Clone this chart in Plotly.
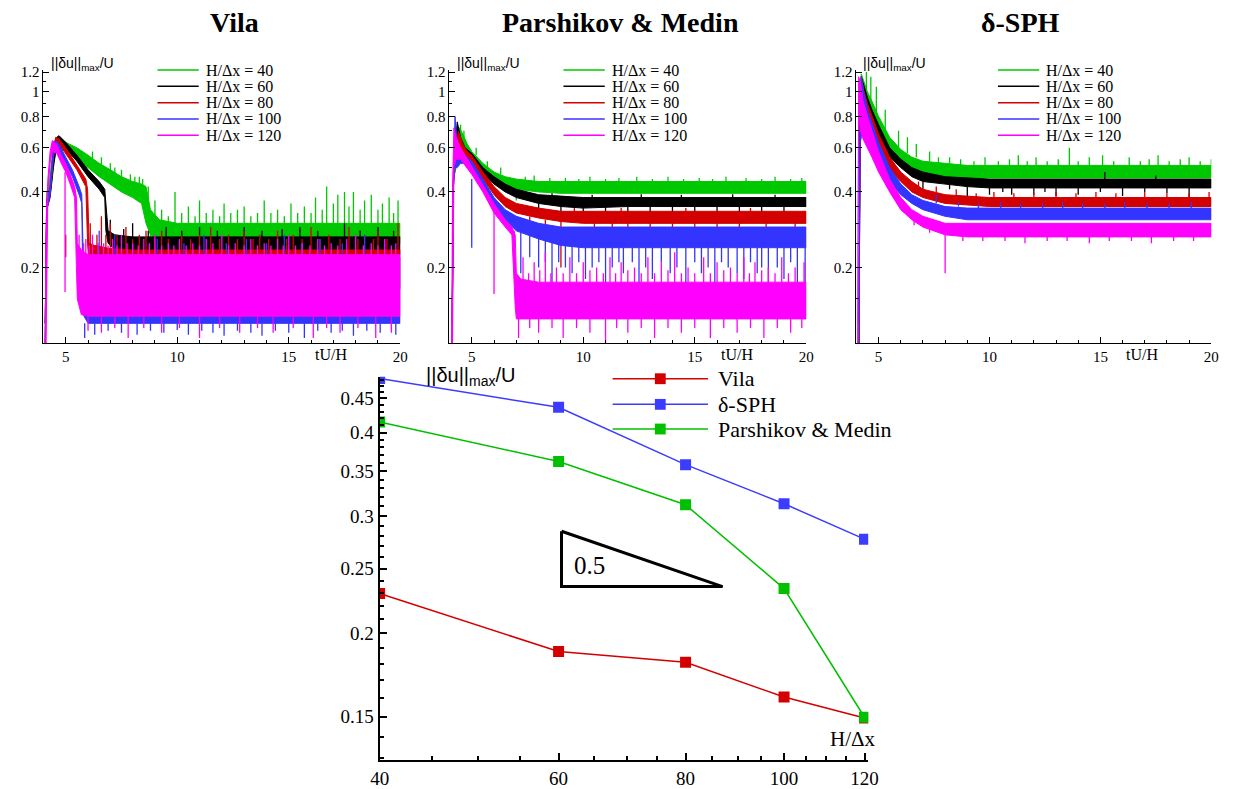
import plotly.graph_objects as go

W, H = 1239, 789

# ---------------- colours / labels ----------------
GREEN, BLACK, RED, BLUE, PINK = '#00c800', '#000000', '#d20000', '#3434ff', '#ff00ff'
res_labels = ['H/Δx = 40', 'H/Δx = 60', 'H/Δx = 80', 'H/Δx = 100', 'H/Δx = 120']
panel_titles = ['Vila', 'Parshikov & Medin', 'δ-SPH']

# ---------------- top panels: time histories ----------------
# each series: times, upper / lower envelope of the noisy signal, and single spikes (t, from, to)

# ===== Vila =====
vila40_t = [4.08, 4.15, 4.25, 4.35, 4.45, 4.6, 4.8, 5.0, 5.5, 6.0, 6.5, 7.0, 7.5, 8.0, 8.4, 8.6, 8.8, 9.2, 10.0, 12.0, 14.0, 16.0, 18.0, 20.0]
vila40_hi = [0.12, 0.40, 0.42, 0.50, 0.62, 0.66, 0.65, 0.63, 0.60, 0.56, 0.52, 0.49, 0.46, 0.44, 0.43, 0.42, 0.34, 0.31, 0.30, 0.30, 0.30, 0.30, 0.30, 0.30]
vila40_lo = [0.10, 0.36, 0.38, 0.42, 0.52, 0.60, 0.59, 0.58, 0.54, 0.50, 0.46, 0.43, 0.40, 0.38, 0.36, 0.30, 0.27, 0.25, 0.25, 0.25, 0.25, 0.25, 0.25, 0.25]
vila40_spk = [(6.2, 0.54, 0.58), (6.6, 0.50, 0.55), (7.0, 0.47, 0.52), (7.2, 0.47, 0.50), (7.5, 0.45, 0.49), (7.9, 0.43, 0.47),
              (8.1, 0.42, 0.46), (8.3, 0.42, 0.46), (8.45, 0.40, 0.45), (8.7, 0.36, 0.42), (8.8, 0.30, 0.26),
              (9.0, 0.30, 0.37), (9.3, 0.30, 0.34), (9.6, 0.30, 0.32), (9.9, 0.30, 0.40), (10.2, 0.30, 0.33), (10.5, 0.30, 0.35),
              (10.8, 0.30, 0.32), (11.0, 0.30, 0.37), (11.3, 0.30, 0.33), (11.6, 0.30, 0.34), (11.9, 0.30, 0.32), (12.1, 0.30, 0.36),
              (12.4, 0.30, 0.33), (12.7, 0.30, 0.34), (13.0, 0.30, 0.35), (13.3, 0.30, 0.32), (13.6, 0.30, 0.33), (13.9, 0.30, 0.37),
              (14.2, 0.30, 0.33), (14.5, 0.30, 0.34), (14.8, 0.30, 0.32), (15.1, 0.30, 0.36), (15.4, 0.30, 0.33), (15.7, 0.30, 0.35),
              (16.0, 0.30, 0.33), (16.2, 0.30, 0.38), (16.5, 0.30, 0.34), (16.7, 0.30, 0.42), (17.0, 0.30, 0.36), (17.2, 0.30, 0.39),
              (17.5, 0.30, 0.40), (17.7, 0.30, 0.35), (17.9, 0.30, 0.40), (18.2, 0.30, 0.34), (18.4, 0.30, 0.37), (18.7, 0.30, 0.39),
              (19.0, 0.30, 0.34), (19.2, 0.30, 0.36), (19.5, 0.30, 0.38), (19.7, 0.30, 0.33), (19.9, 0.30, 0.37)]

vila60_t = [4.08, 4.15, 4.3, 4.45, 4.6, 4.7, 5.0, 5.5, 6.0, 6.5, 6.75, 6.8, 6.9, 7.2, 8.0, 10.0, 12.0, 14.0, 16.0, 18.0, 20.0]
vila60_hi = [0.12, 0.37, 0.40, 0.55, 0.66, 0.67, 0.63, 0.56, 0.49, 0.44, 0.41, 0.36, 0.28, 0.27, 0.265, 0.265, 0.265, 0.265, 0.265, 0.265, 0.265]
vila60_lo = [0.10, 0.34, 0.38, 0.50, 0.62, 0.64, 0.60, 0.53, 0.46, 0.41, 0.38, 0.28, 0.25, 0.235, 0.225, 0.225, 0.225, 0.225, 0.225, 0.225, 0.225]
vila60_spk = [(7.0, 0.27, 0.31), (7.6, 0.265, 0.285), (8.0, 0.265, 0.30), (8.7, 0.265, 0.28), (9.5, 0.265, 0.29), (10.2, 0.265, 0.28),
              (11.0, 0.265, 0.29), (11.8, 0.265, 0.28), (13.0, 0.265, 0.29), (13.8, 0.265, 0.28), (14.7, 0.265, 0.285),
              (15.5, 0.265, 0.29), (16.3, 0.265, 0.28), (17.5, 0.265, 0.30), (18.2, 0.265, 0.28), (19.0, 0.265, 0.29),
              (19.7, 0.265, 0.28), (7.4, 0.23, 0.20), (8.5, 0.225, 0.19), (9.2, 0.225, 0.205), (10.5, 0.225, 0.19),
              (11.4, 0.225, 0.205), (12.5, 0.225, 0.20), (13.4, 0.225, 0.205), (14.5, 0.225, 0.20), (15.2, 0.225, 0.205),
              (16.5, 0.225, 0.19), (17.2, 0.225, 0.205), (18.5, 0.225, 0.20), (19.4, 0.225, 0.205)]

vila80_t = [4.08, 4.15, 4.3, 4.45, 4.55, 4.7, 5.0, 5.5, 5.9, 5.98, 6.05, 6.3, 7.0, 8.0, 10.0, 12.0, 14.0, 16.0, 18.0, 20.0]
vila80_hi = [0.12, 0.37, 0.42, 0.60, 0.66, 0.65, 0.60, 0.51, 0.45, 0.41, 0.25, 0.245, 0.238, 0.235, 0.235, 0.235, 0.235, 0.235, 0.235, 0.235]
vila80_lo = [0.10, 0.34, 0.39, 0.55, 0.62, 0.62, 0.57, 0.49, 0.42, 0.25, 0.20, 0.18, 0.165, 0.165, 0.165, 0.165, 0.165, 0.165, 0.165, 0.165]
vila80_spk = [(5.0, 0.22, 0.27), (6.1, 0.24, 0.30), (6.4, 0.24, 0.27), (6.6, 0.24, 0.32), (6.8, 0.24, 0.27), (7.0, 0.24, 0.30),
              (7.3, 0.235, 0.27), (7.7, 0.235, 0.29), (8.0, 0.235, 0.26), (8.3, 0.235, 0.27), (8.6, 0.235, 0.28),
              (9.0, 0.235, 0.26), (9.3, 0.235, 0.28), (9.6, 0.235, 0.26), (10.2, 0.235, 0.27), (10.6, 0.235, 0.26),
              (11.0, 0.235, 0.27), (11.5, 0.235, 0.29), (11.9, 0.235, 0.26), (12.3, 0.235, 0.27), (12.7, 0.235, 0.26),
              (13.0, 0.235, 0.28), (13.4, 0.235, 0.26), (13.7, 0.235, 0.27), (14.1, 0.235, 0.26), (14.5, 0.235, 0.28),
              (14.9, 0.235, 0.26), (15.2, 0.235, 0.27), (15.6, 0.235, 0.26), (16.0, 0.235, 0.29), (16.4, 0.235, 0.26),
              (16.8, 0.235, 0.27), (17.3, 0.235, 0.26), (17.7, 0.235, 0.29), (18.1, 0.235, 0.26), (18.4, 0.235, 0.27),
              (18.8, 0.235, 0.26), (19.0, 0.235, 0.28), (19.4, 0.235, 0.26), (19.9, 0.235, 0.30), (9.8, 0.165, 0.14),
              (13.4, 0.165, 0.14), (17.1, 0.165, 0.145)]

vila100_t = [4.08, 4.15, 4.3, 4.45, 4.55, 4.7, 5.0, 5.3, 5.6, 5.72, 5.78, 6.0, 7.0, 10.0, 14.0, 20.0]
vila100_hi = [0.12, 0.37, 0.42, 0.60, 0.64, 0.62, 0.55, 0.49, 0.42, 0.39, 0.23, 0.22, 0.22, 0.22, 0.22, 0.22]
vila100_lo = [0.10, 0.34, 0.39, 0.55, 0.61, 0.58, 0.52, 0.46, 0.39, 0.36, 0.13, 0.12, 0.12, 0.12, 0.12, 0.12]
vila100_spk = [(5.85, 0.12, 0.105), (6.3, 0.12, 0.108), (6.9, 0.12, 0.112), (7.5, 0.12, 0.11), (8.2, 0.12, 0.108),
               (8.8, 0.12, 0.112), (9.4, 0.12, 0.11), (10.0, 0.12, 0.113), (10.5, 0.12, 0.108), (11.1, 0.12, 0.112),
               (11.6, 0.12, 0.11), (12.1, 0.12, 0.107), (12.7, 0.12, 0.112), (13.3, 0.12, 0.11), (13.8, 0.12, 0.107),
               (14.4, 0.12, 0.112), (15.0, 0.12, 0.11), (15.7, 0.12, 0.105), (16.3, 0.12, 0.112), (16.9, 0.12, 0.11),
               (17.4, 0.12, 0.112), (17.9, 0.12, 0.107), (18.5, 0.12, 0.112), (19.1, 0.12, 0.11), (19.8, 0.12, 0.108),
               (6.5, 0.22, 0.28), (7.2, 0.22, 0.27), (8.0, 0.22, 0.25), (9.1, 0.22, 0.26), (10.3, 0.22, 0.25),
               (11.2, 0.22, 0.27), (12.2, 0.22, 0.25), (13.1, 0.22, 0.26), (14.0, 0.22, 0.25), (14.8, 0.22, 0.27),
               (15.6, 0.22, 0.25), (16.4, 0.22, 0.26), (17.4, 0.22, 0.25), (18.4, 0.22, 0.27), (19.3, 0.22, 0.25)]

vila120_t = [4.08, 4.12, 4.2, 4.3, 4.4, 4.6, 4.8, 5.0, 5.2, 5.4, 5.48, 5.52, 5.7, 6.0, 8.0, 10.0, 12.0, 14.0, 16.0, 18.0, 20.0]
vila120_hi = [0.10, 0.30, 0.45, 0.58, 0.64, 0.62, 0.56, 0.52, 0.47, 0.42, 0.38, 0.25, 0.235, 0.225, 0.225, 0.225, 0.225, 0.225, 0.225, 0.225, 0.225]
vila120_lo = [0.10, 0.10, 0.40, 0.52, 0.58, 0.57, 0.52, 0.48, 0.43, 0.38, 0.20, 0.15, 0.13, 0.128, 0.128, 0.128, 0.128, 0.128, 0.128, 0.128, 0.128]
vila120_spk = [(4.97, 0.48, 0.16), (5.6, 0.225, 0.27), (5.8, 0.225, 0.25), (5.9, 0.225, 0.26), (6.05, 0.225, 0.245),
               (6.2, 0.225, 0.27), (6.45, 0.225, 0.25), (6.7, 0.225, 0.25), (6.9, 0.225, 0.245), (7.1, 0.225, 0.26),
               (7.3, 0.225, 0.245), (7.5, 0.225, 0.27), (7.75, 0.225, 0.25), (8.0, 0.225, 0.25), (8.25, 0.225, 0.245),
               (8.5, 0.225, 0.26), (8.75, 0.225, 0.25), (9.0, 0.225, 0.27), (9.3, 0.225, 0.245), (9.6, 0.225, 0.25),
               (9.85, 0.225, 0.245), (10.1, 0.225, 0.26), (10.4, 0.225, 0.245), (10.7, 0.225, 0.25), (11.0, 0.225, 0.245),
               (11.3, 0.225, 0.26), (11.6, 0.225, 0.25), (12.0, 0.225, 0.27), (12.3, 0.225, 0.245), (12.6, 0.225, 0.25),
               (13.0, 0.225, 0.245), (13.3, 0.225, 0.26), (13.6, 0.225, 0.245), (13.9, 0.225, 0.25), (14.2, 0.225, 0.245),
               (14.5, 0.225, 0.26), (14.75, 0.225, 0.245), (15.0, 0.225, 0.27), (15.3, 0.225, 0.245), (15.6, 0.225, 0.25),
               (15.95, 0.225, 0.245), (16.3, 0.225, 0.26), (16.6, 0.225, 0.245), (16.9, 0.225, 0.25), (17.2, 0.225, 0.245),
               (17.6, 0.225, 0.26), (18.0, 0.225, 0.27), (18.35, 0.225, 0.245), (18.7, 0.225, 0.25), (19.0, 0.225, 0.245),
               (19.3, 0.225, 0.26), (19.6, 0.225, 0.245), (19.8, 0.225, 0.25),
               (6.0, 0.128, 0.112), (6.6, 0.128, 0.11), (7.2, 0.128, 0.115), (7.8, 0.128, 0.105), (8.5, 0.128, 0.115),
               (9.3, 0.128, 0.11), (10.1, 0.128, 0.115), (11.0, 0.128, 0.105), (11.9, 0.128, 0.115), (12.8, 0.128, 0.11),
               (13.6, 0.128, 0.115), (14.3, 0.128, 0.11), (15.2, 0.128, 0.115), (16.1, 0.128, 0.105), (16.7, 0.128, 0.115),
               (17.3, 0.128, 0.11), (18.1, 0.128, 0.115), (18.9, 0.128, 0.105), (19.6, 0.128, 0.11)]

# ===== Parshikov & Medin =====
pm40_t = [4.12, 4.18, 4.3, 4.45, 4.6, 4.8, 5.0, 5.5, 6.0, 6.5, 7.0, 8.0, 9.0, 10.0, 12.0, 14.0, 16.0, 18.0, 20.0]
pm40_hi = [0.12, 0.50, 0.62, 0.72, 0.68, 0.62, 0.58, 0.52, 0.48, 0.46, 0.45, 0.44, 0.44, 0.44, 0.44, 0.44, 0.44, 0.44, 0.44]
pm40_lo = [0.10, 0.45, 0.50, 0.55, 0.56, 0.54, 0.53, 0.48, 0.45, 0.42, 0.41, 0.40, 0.395, 0.395, 0.395, 0.395, 0.395, 0.395, 0.395]
pm40_spk = [(4.5, 0.65, 0.74), (4.65, 0.62, 0.70), (5.2, 0.56, 0.60), (5.7, 0.50, 0.53), (6.3, 0.47, 0.50), (7.0, 0.41, 0.37),
            (7.4, 0.445, 0.46), (7.8, 0.44, 0.465), (8.5, 0.44, 0.455), (9.2, 0.44, 0.455), (9.8, 0.44, 0.45),
            (10.3, 0.44, 0.46), (11.0, 0.44, 0.45), (11.6, 0.44, 0.455), (12.4, 0.44, 0.46), (13.1, 0.44, 0.45),
            (13.8, 0.44, 0.46), (14.5, 0.44, 0.45), (15.2, 0.44, 0.455), (15.8, 0.44, 0.45), (16.4, 0.44, 0.46),
            (17.3, 0.44, 0.455), (18.0, 0.44, 0.45), (18.6, 0.44, 0.46), (19.3, 0.44, 0.45), (19.8, 0.44, 0.455)]

pm60_t = [4.12, 4.18, 4.25, 4.35, 4.5, 4.7, 5.0, 5.5, 6.0, 6.5, 7.0, 8.0, 9.0, 10.0, 12.0, 14.0, 16.0, 18.0, 20.0]
pm60_hi = [0.12, 0.48, 0.60, 0.76, 0.66, 0.60, 0.57, 0.50, 0.46, 0.43, 0.41, 0.39, 0.385, 0.38, 0.38, 0.38, 0.38, 0.38, 0.38]
pm60_lo = [0.10, 0.45, 0.52, 0.58, 0.56, 0.55, 0.53, 0.47, 0.43, 0.40, 0.38, 0.36, 0.35, 0.345, 0.35, 0.35, 0.35, 0.35, 0.35]
pm60_spk = [(8, 0.36, 0.32), (9, 0.35, 0.32), (10, 0.35, 0.325), (11, 0.35, 0.33), (12, 0.35, 0.32), (13, 0.35, 0.33),
            (14, 0.35, 0.325), (15, 0.35, 0.33), (16, 0.35, 0.32), (17, 0.35, 0.325), (18, 0.35, 0.32), (19, 0.35, 0.325),
            (8.6, 0.385, 0.395), (10.4, 0.38, 0.39), (12.6, 0.38, 0.392), (14.4, 0.38, 0.39), (16.7, 0.38, 0.392), (18.6, 0.38, 0.39)]

pm80_t = [4.12, 4.18, 4.25, 4.4, 4.6, 4.8, 5.0, 5.5, 6.0, 6.5, 7.0, 8.0, 9.0, 10.0, 12.0, 14.0, 16.0, 18.0, 20.0]
pm80_hi = [0.12, 0.45, 0.58, 0.70, 0.62, 0.58, 0.56, 0.48, 0.42, 0.38, 0.36, 0.345, 0.335, 0.335, 0.335, 0.335, 0.335, 0.335, 0.335]
pm80_lo = [0.10, 0.42, 0.50, 0.54, 0.54, 0.54, 0.52, 0.45, 0.39, 0.35, 0.33, 0.315, 0.305, 0.30, 0.30, 0.30, 0.30, 0.30, 0.30]
pm80_spk = [(9.0, 0.305, 0.20), (7.6, 0.32, 0.29), (8.3, 0.31, 0.29), (10.5, 0.30, 0.28), (11.3, 0.30, 0.29), (12.0, 0.30, 0.27),
            (13.0, 0.30, 0.285), (14.0, 0.30, 0.29), (15.0, 0.30, 0.28), (16.0, 0.30, 0.29), (17.0, 0.30, 0.28),
            (18.2, 0.30, 0.27), (19.5, 0.30, 0.285), (9.6, 0.335, 0.345), (11.7, 0.335, 0.345), (14.6, 0.335, 0.345),
            (17.5, 0.335, 0.345)]

pm100_t = [4.12, 4.18, 4.25, 4.35, 4.5, 4.7, 5.0, 5.5, 6.0, 6.5, 7.0, 8.0, 9.0, 10.0, 12.0, 14.0, 16.0, 18.0, 20.0]
pm100_hi = [0.12, 0.45, 0.80, 0.62, 0.58, 0.56, 0.53, 0.45, 0.38, 0.34, 0.32, 0.30, 0.29, 0.29, 0.29, 0.29, 0.29, 0.29, 0.29]
pm100_lo = [0.10, 0.42, 0.50, 0.50, 0.52, 0.52, 0.49, 0.42, 0.35, 0.31, 0.28, 0.26, 0.245, 0.24, 0.24, 0.24, 0.24, 0.24, 0.24]
pm100_spk = [(5.0, 0.45, 0.24), (6.9, 0.28, 0.23), (7.2, 0.28, 0.19), (7.6, 0.27, 0.22), (8.0, 0.26, 0.20), (8.3, 0.26, 0.21),
             (8.6, 0.255, 0.17), (8.9, 0.25, 0.21), (9.2, 0.25, 0.20), (9.5, 0.25, 0.19), (9.8, 0.245, 0.21),
             (10.1, 0.24, 0.18), (10.4, 0.24, 0.20), (10.7, 0.24, 0.21), (11.0, 0.24, 0.16), (11.3, 0.24, 0.20),
             (11.6, 0.24, 0.21), (11.8, 0.24, 0.19), (12.2, 0.24, 0.21), (12.5, 0.24, 0.17), (12.8, 0.24, 0.20),
             (13.1, 0.24, 0.18), (13.5, 0.24, 0.21), (13.9, 0.24, 0.19), (14.2, 0.24, 0.20), (14.6, 0.24, 0.17),
             (15.0, 0.24, 0.21), (15.3, 0.24, 0.19), (15.6, 0.24, 0.20), (15.9, 0.24, 0.17), (16.2, 0.24, 0.21),
             (16.5, 0.24, 0.20), (16.9, 0.24, 0.19), (17.2, 0.24, 0.18), (17.5, 0.24, 0.21), (17.8, 0.24, 0.19),
             (18.0, 0.24, 0.20), (18.3, 0.24, 0.16), (18.7, 0.24, 0.20), (19.0, 0.24, 0.18), (19.3, 0.24, 0.21),
             (19.6, 0.24, 0.17), (19.95, 0.24, 0.17)]

pm120_t = [4.1, 4.14, 4.2, 4.3, 4.5, 4.7, 5.0, 5.5, 6.0, 6.5, 6.8, 6.95, 7.0, 7.2, 8.0, 10.0, 12.0, 14.0, 16.0, 18.0, 20.0]
pm120_hi = [0.10, 0.40, 0.72, 0.66, 0.60, 0.56, 0.51, 0.43, 0.36, 0.31, 0.29, 0.27, 0.19, 0.18, 0.175, 0.175, 0.175, 0.175, 0.175, 0.175, 0.175]
pm120_lo = [0.10, 0.10, 0.50, 0.54, 0.54, 0.51, 0.47, 0.40, 0.33, 0.29, 0.27, 0.14, 0.125, 0.125, 0.125, 0.125, 0.125, 0.125, 0.125, 0.125, 0.125]
pm120_spk = [(6.0, 0.34, 0.157), (7.3, 0.175, 0.22), (7.55, 0.175, 0.19), (7.8, 0.175, 0.21), (8.05, 0.175, 0.195),
             (8.3, 0.175, 0.23), (8.55, 0.175, 0.19), (8.8, 0.175, 0.20), (9.1, 0.175, 0.19), (9.4, 0.175, 0.22),
             (9.7, 0.175, 0.19), (10.0, 0.175, 0.21), (10.3, 0.175, 0.195), (10.6, 0.175, 0.20), (10.9, 0.175, 0.19),
             (11.2, 0.175, 0.22), (11.45, 0.175, 0.19), (11.7, 0.175, 0.21), (12.0, 0.175, 0.195), (12.3, 0.175, 0.20),
             (12.6, 0.175, 0.19), (12.9, 0.175, 0.22), (13.2, 0.175, 0.19), (13.5, 0.175, 0.21), (13.8, 0.175, 0.195),
             (14.1, 0.175, 0.23), (14.4, 0.175, 0.19), (14.7, 0.175, 0.20), (15.0, 0.175, 0.19), (15.4, 0.175, 0.22),
             (15.7, 0.175, 0.19), (16.0, 0.175, 0.21), (16.3, 0.175, 0.195), (16.6, 0.175, 0.20), (16.9, 0.175, 0.19),
             (17.2, 0.175, 0.22), (17.45, 0.175, 0.19), (17.7, 0.175, 0.21), (18.0, 0.175, 0.195), (18.3, 0.175, 0.20),
             (18.6, 0.175, 0.19), (18.9, 0.175, 0.22), (19.2, 0.175, 0.19), (19.5, 0.175, 0.20), (19.9, 0.175, 0.21),
             (7.1, 0.125, 0.105), (7.6, 0.125, 0.115), (8.0, 0.125, 0.11), (8.6, 0.125, 0.115), (9.1, 0.125, 0.105),
             (9.7, 0.125, 0.115), (10.3, 0.125, 0.11), (11.0, 0.125, 0.10), (11.5, 0.125, 0.115), (12.0, 0.125, 0.11),
             (12.6, 0.125, 0.115), (13.2, 0.125, 0.105), (13.8, 0.125, 0.115), (14.4, 0.125, 0.11), (15.0, 0.125, 0.115),
             (15.7, 0.125, 0.105), (16.3, 0.125, 0.115), (16.9, 0.125, 0.11), (17.5, 0.125, 0.115), (18.1, 0.125, 0.105),
             (18.7, 0.125, 0.115), (19.3, 0.125, 0.11), (19.8, 0.125, 0.115)]

# ===== delta-SPH =====
ds40_t = [4.12, 4.16, 4.22, 4.35, 4.5, 4.7, 5.0, 5.5, 6.0, 6.5, 7.0, 8.0, 9.0, 10.0, 12.0, 14.0, 16.0, 18.0, 20.0]
ds40_hi = [0.12, 0.80, 1.18, 1.10, 1.00, 0.92, 0.80, 0.66, 0.59, 0.55, 0.53, 0.52, 0.51, 0.51, 0.51, 0.51, 0.51, 0.51, 0.51]
ds40_lo = [0.10, 0.60, 0.70, 0.75, 0.75, 0.72, 0.68, 0.58, 0.52, 0.49, 0.47, 0.46, 0.455, 0.455, 0.455, 0.455, 0.455, 0.455, 0.455]
ds40_spk = [(4.45, 1.0, 1.2), (4.65, 0.92, 1.15), (4.9, 0.82, 1.05), (5.3, 0.70, 0.85), (5.9, 0.60, 0.70), (6.3, 0.57, 0.66),
            (6.7, 0.55, 0.62), (7.3, 0.53, 0.58), (7.7, 0.52, 0.55), (8.2, 0.52, 0.55), (8.7, 0.51, 0.54), (9.3, 0.51, 0.53),
            (9.8, 0.51, 0.55), (10.4, 0.51, 0.53), (10.9, 0.51, 0.54), (11.3, 0.51, 0.56), (11.7, 0.51, 0.53),
            (12.1, 0.51, 0.55), (12.6, 0.51, 0.53), (13.1, 0.51, 0.54), (13.6, 0.51, 0.60), (14.0, 0.51, 0.53),
            (14.5, 0.51, 0.55), (15.1, 0.51, 0.56), (15.6, 0.51, 0.53), (16.3, 0.51, 0.55), (16.8, 0.51, 0.53),
            (17.2, 0.51, 0.54), (17.6, 0.51, 0.56), (18.1, 0.51, 0.53), (18.6, 0.51, 0.54), (19.0, 0.51, 0.55),
            (19.5, 0.51, 0.53), (20.0, 0.51, 0.54)]

ds60_t = [4.12, 4.16, 4.22, 4.35, 4.5, 4.7, 5.0, 5.5, 6.0, 6.5, 7.0, 8.0, 9.0, 10.0, 12.0, 14.0, 16.0, 18.0, 20.0]
ds60_hi = [0.12, 0.80, 1.15, 1.05, 0.95, 0.85, 0.74, 0.60, 0.54, 0.50, 0.48, 0.46, 0.455, 0.45, 0.45, 0.45, 0.45, 0.45, 0.45]
ds60_lo = [0.10, 0.60, 0.70, 0.74, 0.72, 0.68, 0.62, 0.55, 0.50, 0.46, 0.44, 0.43, 0.42, 0.415, 0.415, 0.415, 0.415, 0.415, 0.415]
ds60_spk = [(7.0, 0.44, 0.41), (8.2, 0.43, 0.41), (9.0, 0.42, 0.38), (10.0, 0.415, 0.39), (10.6, 0.415, 0.40), (11.0, 0.415, 0.39),
            (12.0, 0.415, 0.39), (12.5, 0.415, 0.40), (13.0, 0.415, 0.385), (14.0, 0.415, 0.39), (15.0, 0.415, 0.40),
            (16.0, 0.415, 0.385), (17.0, 0.415, 0.40), (18.0, 0.415, 0.395), (19.0, 0.415, 0.38), (15.2, 0.45, 0.48),
            (17.5, 0.45, 0.465)]

ds80_t = [4.12, 4.16, 4.22, 4.35, 4.5, 4.7, 5.0, 5.5, 6.0, 6.5, 7.0, 8.0, 9.0, 10.0, 12.0, 14.0, 16.0, 18.0, 20.0]
ds80_hi = [0.12, 0.80, 1.15, 1.00, 0.90, 0.80, 0.68, 0.55, 0.48, 0.44, 0.41, 0.39, 0.385, 0.38, 0.38, 0.38, 0.38, 0.38, 0.38]
ds80_lo = [0.10, 0.60, 0.70, 0.70, 0.68, 0.62, 0.56, 0.49, 0.44, 0.40, 0.38, 0.36, 0.355, 0.35, 0.35, 0.35, 0.35, 0.35, 0.35]
ds80_spk = [(6.8, 0.41, 0.44), (7.6, 0.40, 0.42), (8.5, 0.385, 0.41), (9.4, 0.38, 0.395), (10.2, 0.38, 0.40), (11.1, 0.38, 0.395),
            (12.0, 0.38, 0.395), (13.0, 0.38, 0.40), (13.9, 0.38, 0.395), (14.8, 0.38, 0.40), (15.7, 0.38, 0.395),
            (17.0, 0.38, 0.40), (18.0, 0.38, 0.395), (19.0, 0.38, 0.395), (19.9, 0.38, 0.40)]

ds100_t = [4.12, 4.16, 4.22, 4.35, 4.5, 4.7, 5.0, 5.5, 6.0, 6.5, 7.0, 8.0, 9.0, 10.0, 12.0, 14.0, 16.0, 18.0, 20.0]
ds100_hi = [0.12, 0.80, 1.15, 0.98, 0.85, 0.75, 0.63, 0.50, 0.43, 0.39, 0.37, 0.35, 0.345, 0.345, 0.345, 0.345, 0.345, 0.345, 0.345]
ds100_lo = [0.10, 0.60, 0.70, 0.68, 0.64, 0.59, 0.52, 0.44, 0.39, 0.36, 0.34, 0.32, 0.31, 0.31, 0.31, 0.31, 0.31, 0.31, 0.31]
ds100_spk = [(7.6, 0.36, 0.39), (8.6, 0.35, 0.365), (9.5, 0.345, 0.36), (10.5, 0.345, 0.365), (11.4, 0.345, 0.36),
             (12.4, 0.345, 0.36), (13.3, 0.345, 0.365), (14.2, 0.345, 0.36), (15.2, 0.345, 0.36), (16.1, 0.345, 0.365),
             (17.1, 0.345, 0.36), (18.1, 0.345, 0.36), (19.1, 0.345, 0.365)]

ds120_t = [4.06, 4.1, 4.18, 4.3, 4.5, 4.7, 5.0, 5.5, 6.0, 6.5, 7.0, 8.0, 9.0, 10.0, 12.0, 14.0, 16.0, 18.0, 20.0]
ds120_hi = [0.10, 1.15, 1.10, 0.92, 0.80, 0.70, 0.58, 0.45, 0.38, 0.34, 0.32, 0.30, 0.30, 0.30, 0.30, 0.30, 0.30, 0.30, 0.30]
ds120_lo = [0.10, 0.90, 0.70, 0.65, 0.60, 0.55, 0.48, 0.40, 0.34, 0.31, 0.29, 0.27, 0.265, 0.265, 0.265, 0.265, 0.265, 0.265, 0.265]
ds120_spk = [(8.0, 0.27, 0.19), (6.6, 0.31, 0.295), (7.3, 0.29, 0.275), (8.8, 0.265, 0.255), (9.7, 0.265, 0.255),
             (10.7, 0.265, 0.255), (11.6, 0.265, 0.25), (12.6, 0.265, 0.255), (13.5, 0.265, 0.255), (14.5, 0.265, 0.25),
             (15.4, 0.265, 0.255), (16.4, 0.265, 0.255), (17.3, 0.265, 0.25), (18.3, 0.265, 0.255), (19.2, 0.265, 0.255)]

# ---------------- bottom panel: convergence ----------------
h_dx = [40, 60, 80, 100, 120]
conv_vila = [0.2295, 0.1878, 0.181, 0.1605, 0.1493]
conv_dsph = [0.482, 0.4364, 0.358, 0.3128, 0.2768]
conv_pm = [0.4147, 0.362, 0.3117, 0.2334, 0.1497]
slope_tri_x = [60.4, 60.4, 87.0, 60.4]
slope_tri_y = [0.2845, 0.235, 0.235, 0.2845]

# ---------------- build figure ----------------
fig = go.Figure()


def px(x):
    return x / W


def py(y):
    return 1 - y / H


panels = [
    [(vila40_t, vila40_hi, vila40_lo, vila40_spk), (vila60_t, vila60_hi, vila60_lo, vila60_spk),
     (vila80_t, vila80_hi, vila80_lo, vila80_spk), (vila100_t, vila100_hi, vila100_lo, vila100_spk),
     (vila120_t, vila120_hi, vila120_lo, vila120_spk)],
    [(pm40_t, pm40_hi, pm40_lo, pm40_spk), (pm60_t, pm60_hi, pm60_lo, pm60_spk),
     (pm80_t, pm80_hi, pm80_lo, pm80_spk), (pm100_t, pm100_hi, pm100_lo, pm100_spk),
     (pm120_t, pm120_hi, pm120_lo, pm120_spk)],
    [(ds40_t, ds40_hi, ds40_lo, ds40_spk), (ds60_t, ds60_hi, ds60_lo, ds60_spk),
     (ds80_t, ds80_hi, ds80_lo, ds80_spk), (ds100_t, ds100_hi, ds100_lo, ds100_spk),
     (ds120_t, ds120_hi, ds120_lo, ds120_spk)],
]
series_colors = [GREEN, BLACK, RED, BLUE, PINK]

for p, panel in enumerate(panels):
    xa = 'x' if p == 0 else f'x{p + 1}'
    ya = 'y' if p == 0 else f'y{p + 1}'
    for (t, hi, lo, spk), col, lab in zip(panel, series_colors, res_labels):
        fig.add_trace(go.Scatter(x=list(t) + list(t)[::-1], y=list(hi) + list(lo)[::-1],
                                 mode='lines', fill='toself', fillcolor=col,
                                 line=dict(color=col, width=1), name=lab,
                                 xaxis=xa, yaxis=ya, showlegend=False, hoverinfo='skip'))
        sx, sy = [], []
        for (ts, a, b) in spk:
            sx += [ts, ts, None]
            sy += [a, b, None]
        fig.add_trace(go.Scatter(x=sx, y=sy, mode='lines', line=dict(color=col, width=1.3),
                                 xaxis=xa, yaxis=ya, showlegend=False, hoverinfo='skip'))

# bottom panel traces
conv_colors = ['#d40000', '#3c3cff', '#00c000']
conv_names = ['Vila', 'δ-SPH', 'Parshikov & Medin']
for vals, col, name in zip([conv_vila, conv_dsph, conv_pm], conv_colors, conv_names):
    fig.add_trace(go.Scatter(x=h_dx, y=vals, mode='lines+markers', name=name,
                             line=dict(color=col, width=1.5),
                             marker=dict(symbol='square', size=11, color=col),
                             xaxis='x4', yaxis='y4', showlegend=False))
fig.add_trace(go.Scatter(x=slope_tri_x, y=slope_tri_y, mode='lines', line=dict(color='black', width=3),
                         xaxis='x4', yaxis='y4', showlegend=False, hoverinfo='skip'))

# ---------------- axes ----------------
SERIF = 'Liberation Serif'
top_x_domains = [(34, 397), (447, 810), (861, 1222)]
top_ydom = [py(342), py(65)]
tick_font_top = dict(family=SERIF, size=15, color='black')
for p, (x0, x1) in enumerate(top_x_domains):
    sfx = '' if p == 0 else str(p + 1)
    fig.layout['xaxis' + sfx] = dict(domain=[px(x0), px(x1)], anchor='y' + sfx, range=[4, 20],
                                     tickmode='array', tickvals=[5, 10, 15, 20], ticks='inside', ticklen=6,
                                     tickcolor='black', showline=True, linecolor='black', linewidth=1,
                                     showgrid=False, zeroline=False, tickfont=tick_font_top,
                                     minor=dict(tickmode='array', tickvals=[6, 7, 8, 9, 11, 12, 13, 14, 16, 17, 18, 19],
                                                ticks='inside', ticklen=3, tickcolor='black'))
    fig.layout['yaxis' + sfx] = dict(domain=top_ydom, anchor='x' + sfx, type='log', range=[-1, 0.087],
                                     tickmode='array', tickvals=[0.2, 0.4, 0.6, 0.8, 1, 1.2],
                                     ticktext=['0.2', '0.4', '0.6', '0.8', '1', '1.2'],
                                     ticks='inside', ticklen=6, tickcolor='black', showline=True,
                                     linecolor='black', linewidth=1, showgrid=False, zeroline=False,
                                     tickfont=tick_font_top,
                                     minor=dict(tickmode='array', tickvals=[0.15, 0.25, 0.3, 0.35, 0.5, 0.7, 0.9, 1.1],
                                                ticks='inside', ticklen=3, tickcolor='black'))

fig.update_layout(
    xaxis4=dict(domain=[px(376), px(873)], anchor='y4', type='log', range=[1.60206, 2.0828],
                tickmode='array', tickvals=[40, 60, 80, 100, 120], ticktext=['40', '60', '80', '100', '120'],
                ticks='inside', ticklen=7, tickwidth=1.5, tickcolor='black', showline=True, linecolor='black',
                linewidth=2, showgrid=False, zeroline=False, tickfont=dict(family=SERIF, size=19, color='black'),
                minor=dict(tickmode='array', tickvals=[45, 50, 55, 65, 70, 75, 85, 90, 95, 105, 110, 115],
                           ticks='inside', ticklen=4, tickcolor='black')),
    yaxis4=dict(domain=[py(765), py(376)], anchor='x4', type='log', range=[-0.8894, -0.3143],
                tickmode='array', tickvals=[0.15, 0.2, 0.25, 0.3, 0.35, 0.4, 0.45],
                ticktext=['0.15', '0.2', '0.25', '0.3', '0.35', '0.4', '0.45'],
                ticks='inside', ticklen=7, tickwidth=1.5, tickcolor='black', showline=True, linecolor='black',
                linewidth=2, showgrid=False, zeroline=False, tickfont=dict(family=SERIF, size=19, color='black'),
                minor=dict(tickmode='array',
                           tickvals=[0.13, 0.14, 0.16, 0.17, 0.18, 0.19, 0.21, 0.22, 0.23, 0.24, 0.26, 0.27, 0.28, 0.29,
                                     0.31, 0.32, 0.33, 0.34, 0.36, 0.37, 0.38, 0.39, 0.41, 0.42, 0.43, 0.44, 0.46,
                                     0.47, 0.48],
                           ticks='inside', ticklen=4, tickcolor='black')),
)

# ---------------- annotations & manual legends ----------------
ann = []
shapes = []
title_x = [228, 621, 1028]
for tx, tt in zip(title_x, panel_titles):
    ann.append(dict(x=px(tx), y=py(17), xref='paper', yref='paper', text=f'<b>{tt}</b>', showarrow=False,
                    xanchor='center', yanchor='middle', font=dict(family=SERIF, size=28, color='black')))

ylab_x = [40, 453, 866]
tlab_x = [308, 721, 1133]
leg_line_x = [(150, 192), (563, 605), (1005, 1047)]
leg_rows = [65, 81.5, 98, 114.5, 131]
for p in range(3):
    ann.append(dict(x=px(ylab_x[p]), y=py(59), xref='paper', yref='paper', text='||δu||<sub>max</sub>/U',
                    showarrow=False, xanchor='left', yanchor='middle',
                    font=dict(family='Liberation Sans', size=14, color='black')))
    ann.append(dict(x=px(tlab_x[p]), y=py(353), xref='paper', yref='paper', text='tU/H', showarrow=False,
                    xanchor='left', yanchor='middle', font=dict(family=SERIF, size=16, color='black')))
    lx0, lx1 = leg_line_x[p]
    for ry, col, lab in zip(leg_rows, series_colors, res_labels):
        shapes.append(dict(type='line', xref='paper', yref='paper', x0=px(lx0), x1=px(lx1), y0=py(ry), y1=py(ry),
                           line=dict(color=col, width=1.5)))
        ann.append(dict(x=px(lx1 + 5), y=py(ry), xref='paper', yref='paper', text=lab, showarrow=False,
                        xanchor='left', yanchor='middle', font=dict(family=SERIF, size=16, color='black')))

# bottom labels
ann.append(dict(x=px(421), y=py(376), xref='paper', yref='paper', text='||δu||<sub>max</sub>/U', showarrow=False,
                xanchor='left', yanchor='middle', font=dict(family='Liberation Sans', size=20, color='black')))
ann.append(dict(x=px(832), y=py(743), xref='paper', yref='paper', text='H/Δx', showarrow=False,
                xanchor='left', yanchor='middle', font=dict(family=SERIF, size=21, color='black')))
ann.append(dict(x=px(572), y=py(567), xref='paper', yref='paper', text='0.5', showarrow=False,
                xanchor='left', yanchor='middle', font=dict(family=SERIF, size=25, color='black')))

# bottom legend
bl_rows = [378, 404, 429]
for ry, col, lab in zip(bl_rows, conv_colors, conv_names):
    shapes.append(dict(type='line', xref='paper', yref='paper', x0=px(613), x1=px(710), y0=py(ry), y1=py(ry),
                       line=dict(color=col, width=1.5)))
    shapes.append(dict(type='rect', xref='paper', yref='paper', x0=px(656), x1=px(667), y0=py(ry + 5.5),
                       y1=py(ry - 5.5), fillcolor=col, line=dict(color=col, width=0)))
    ann.append(dict(x=px(718), y=py(ry), xref='paper', yref='paper', text=lab, showarrow=False,
                    xanchor='left', yanchor='middle', font=dict(family=SERIF, size=22, color='black')))

fig.update_layout(width=W, height=H, margin=dict(l=0, r=0, t=0, b=0), paper_bgcolor='white',
                  plot_bgcolor='white', showlegend=False, annotations=ann, shapes=shapes)

fig.write_html('out.html')
